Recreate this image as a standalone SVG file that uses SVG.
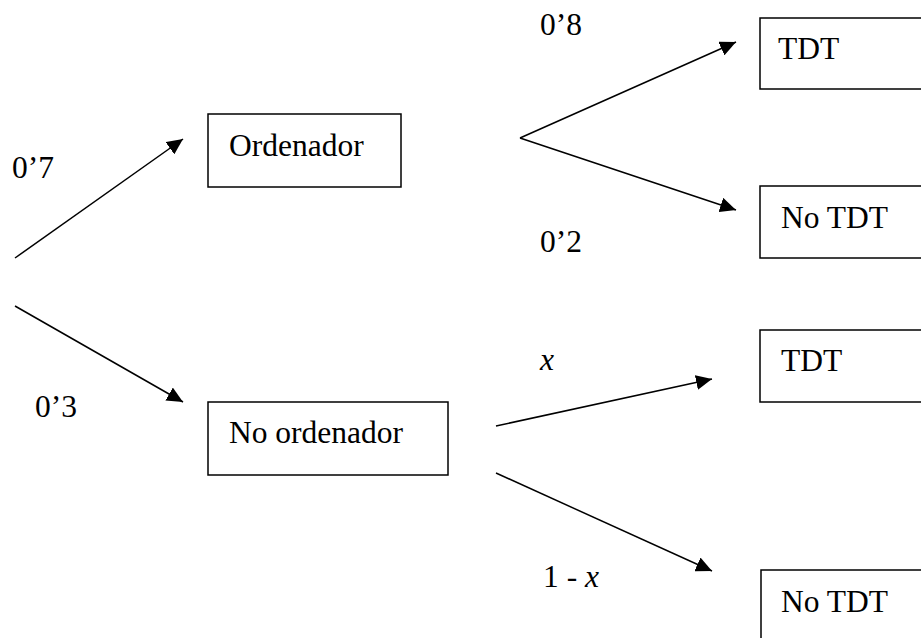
<svg xmlns="http://www.w3.org/2000/svg" width="921" height="638" viewBox="0 0 921 638">
<style>
.box{fill:#fff;stroke:#000;stroke-width:1.5}
.t{font-family:'Liberation Serif','Times New Roman','DejaVu Serif',serif;font-size:31.5px;fill:#000}
.c{stroke:#000;stroke-width:1.5;fill:none}
.a{marker-end:url(#ah)}
</style>
<defs>
<marker id="ah" markerUnits="userSpaceOnUse" markerWidth="16" markerHeight="15" refX="16" refY="7.5" orient="auto">
<path d="M0,0 L16,7.5 L0,15 z" fill="#000"/>
</marker>
</defs>
<rect width="921" height="638" fill="#fff"/>
<g id="connectors">
<line class="c a" x1="15" y1="258" x2="183" y2="139"/>
<line class="c a" x1="15" y1="306" x2="183" y2="402"/>
<line class="c a" x1="520" y1="138" x2="736" y2="42"/>
<line class="c a" x1="520" y1="138" x2="736" y2="210"/>
<line class="c a" x1="496" y1="426" x2="712" y2="379"/>
<line class="c a" x1="496" y1="473" x2="712" y2="571"/>
</g>
<g id="labels">
<text class="t" x="12" y="178">0’7</text>
<text class="t" x="35" y="417">0’3</text>
<text class="t" x="540" y="35">0’8</text>
<text class="t" x="540" y="252">0’2</text>
<text class="t" x="540" y="370" font-style="italic">x</text>
<text class="t" x="543" y="587">1 - <tspan font-style="italic">x</tspan></text>
</g>
<g id="ordenador">
<rect class="box" x="208" y="114" width="193" height="73"/>
<text class="t" x="229" y="156">Ordenador</text>
</g>
<g id="no-ordenador">
<rect class="box" x="208" y="402" width="240" height="73"/>
<text class="t" x="229" y="443">No ordenador</text>
</g>
<g id="tdt-1">
<rect class="box" x="760" y="18" width="170" height="71"/>
<text class="t" x="778" y="59">TDT</text>
</g>
<g id="no-tdt-1">
<rect class="box" x="760" y="186" width="170" height="72"/>
<text class="t" x="781" y="228">No TDT</text>
</g>
<g id="tdt-2">
<rect class="box" x="760" y="330" width="170" height="72"/>
<text class="t" x="781" y="371">TDT</text>
</g>
<g id="no-tdt-2">
<rect class="box" x="761" y="570" width="170" height="80"/>
<text class="t" x="781" y="612">No TDT</text>
</g>
</svg>
